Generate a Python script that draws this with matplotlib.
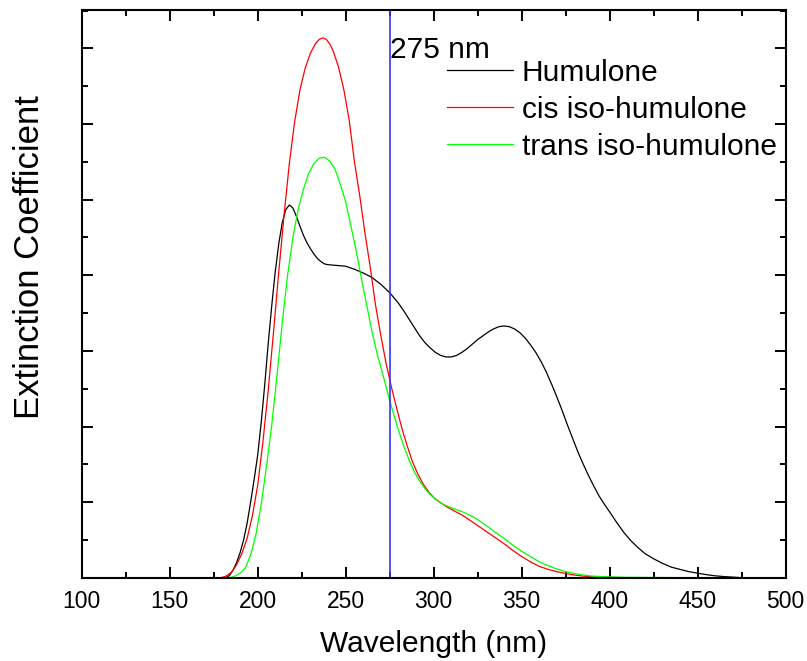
import matplotlib
matplotlib.use("Agg")
import matplotlib.pyplot as plt
from matplotlib.ticker import MultipleLocator, NullFormatter
from matplotlib.transforms import blended_transform_factory

plt.rcParams['font.family'] = ['Liberation Sans', 'DejaVu Sans']

# Humulone absorption spectrum
humulone_nm = [182, 184, 186, 188, 190, 192, 194, 196, 198, 200, 202, 204, 206, 208, 210,
               212, 214, 216, 218, 220, 222, 224, 226, 228, 230, 232, 234, 236, 238, 240,
               245, 250, 255, 260, 265, 270, 275, 280, 283, 286, 289, 292, 295, 298, 301,
               304, 307, 310, 313, 316, 319, 322, 325, 328, 331, 334, 337, 340, 343, 346,
               349, 352, 355, 358, 361, 364, 367, 370, 373, 376, 379, 382, 385, 388, 391,
               394, 397, 400, 404, 408, 412, 416, 420, 425, 430, 435, 440, 445, 450, 455,
               460, 465, 470, 475]
humulone_ext = [0.0, 0.03, 0.1, 0.2, 0.33, 0.5, 0.72, 1.0, 1.3, 1.62, 2.05, 2.55, 3.1, 3.6, 4.05,
                4.42, 4.7, 4.87, 4.93, 4.89, 4.78, 4.65, 4.53, 4.43, 4.35, 4.28, 4.22, 4.18, 4.15, 4.14,
                4.13, 4.12, 4.08, 4.03, 3.97, 3.88, 3.77, 3.63, 3.53, 3.42, 3.31, 3.2, 3.11, 3.04, 2.98,
                2.94, 2.92, 2.92, 2.94, 2.98, 3.03, 3.09, 3.15, 3.2, 3.25, 3.29, 3.32, 3.33, 3.32, 3.29,
                3.24, 3.17, 3.08, 2.98, 2.86, 2.72, 2.56, 2.39, 2.21, 2.02, 1.84, 1.66, 1.5, 1.35, 1.21,
                1.08, 0.97, 0.87, 0.73, 0.6, 0.49, 0.4, 0.32, 0.25, 0.19, 0.14, 0.11, 0.08, 0.06, 0.04,
                0.025, 0.015, 0.008, 0.0]

# cis iso-humulone absorption spectrum
cis_nm = [179, 182, 185, 188, 191, 194, 197, 200, 203, 206, 209, 212, 215, 218, 221,
          224, 227, 230, 233, 235, 237, 239, 241, 243, 246, 249, 252, 255, 258, 261, 264,
          267, 270, 273, 276, 279, 282, 285, 288, 291, 294, 297, 300, 304, 308, 312,
          316, 320, 325, 330, 335, 340, 345, 350, 355, 360, 365, 370, 375, 380, 385,
          390, 395, 400, 410]
cis_ext = [0.0, 0.02, 0.07, 0.17, 0.32, 0.52, 0.82, 1.22, 1.8, 2.48, 3.25, 4.05, 4.8, 5.48, 6.03,
           6.45, 6.74, 6.94, 7.07, 7.12, 7.14, 7.12, 7.06, 6.96, 6.75, 6.45, 6.05, 5.5, 5.05, 4.55, 4.1,
           3.6, 3.2, 2.83, 2.52, 2.24, 1.97, 1.74, 1.53, 1.37, 1.24, 1.14, 1.06, 0.99, 0.93, 0.88,
           0.83, 0.77, 0.69, 0.61, 0.53, 0.45, 0.36, 0.28, 0.21, 0.15, 0.11, 0.08, 0.055, 0.035, 0.02,
           0.012, 0.008, 0.005, 0.0]

# trans iso-humulone absorption spectrum
trans_nm = [184, 187, 190, 193, 196, 199, 202, 205, 208, 211, 214, 217, 220, 223, 226,
            229, 232, 235, 238, 241, 244, 247, 250, 253, 256, 259, 262, 265, 268, 271,
            274, 277, 280, 283, 286, 289, 292, 295, 298, 302, 306, 310, 313, 316, 319,
            322, 325, 328, 331, 335, 340, 345, 350, 355, 360, 365, 370, 375, 380, 385,
            390, 395, 400, 410, 420, 450]
trans_ext = [0.0, 0.02, 0.06, 0.13, 0.3, 0.57, 0.97, 1.47, 2.02, 2.68, 3.38, 4.0, 4.5, 4.87, 5.14,
             5.35, 5.48, 5.55, 5.56, 5.51, 5.4, 5.2, 4.97, 4.65, 4.32, 3.95, 3.6, 3.25, 2.95, 2.7,
             2.43, 2.18, 1.95, 1.74, 1.56, 1.4, 1.28, 1.18, 1.1, 1.02, 0.965, 0.925, 0.9, 0.875, 0.845,
             0.81, 0.77, 0.72, 0.67, 0.6, 0.52, 0.43, 0.35, 0.28, 0.21, 0.16, 0.115, 0.08, 0.055, 0.035,
             0.022, 0.015, 0.01, 0.006, 0.004, 0.0]

marker_nm = 275
marker_label = "275 nm"
x_ticks = [100, 150, 200, 250, 300, 350, 400, 450, 500]

fig = plt.figure(figsize=(8.07, 6.61), dpi=100)
ax = fig.add_axes([0.1012, 0.126, 0.8724, 0.859])

ax.plot(humulone_nm, humulone_ext, color="black", lw=0.9, label="Humulone")
ax.plot(cis_nm, cis_ext, color="#ff0000", lw=0.9, label="cis iso-humulone")
ax.plot(trans_nm, trans_ext, color="#00ff00", lw=0.9, label="trans iso-humulone")
ax.axvline(marker_nm, color="#3333ff", lw=1.2)

trans = blended_transform_factory(ax.transData, ax.transAxes)
ax.text(marker_nm, 0.93, marker_label, transform=trans, ha="left", va="center", fontsize=21.5)

ax.set_xlim(100, 500)
ax.set_ylim(0, 7.51)
ax.set_xticks(x_ticks)
ax.xaxis.set_minor_locator(MultipleLocator(25))
ax.yaxis.set_major_locator(MultipleLocator(1))
ax.yaxis.set_minor_locator(MultipleLocator(0.5))
ax.yaxis.set_major_formatter(NullFormatter())

ax.tick_params(which="both", direction="in", top=True, right=True, width=1.4)
ax.tick_params(which="major", length=8)
ax.tick_params(which="minor", length=4)
ax.tick_params(axis="x", labelsize=16.5, pad=9)
for s in ax.spines.values():
    s.set_linewidth(1.5)

ax.set_xlabel("Wavelength (nm)", fontsize=21.5, labelpad=12)
fig.text(0.036, 1 - 257 / 661, "Extinction Coefficient", rotation=90,
         ha="center", va="center", fontsize=25)

ax.legend(loc="upper left", bbox_to_anchor=(0.554, 0.911), bbox_transform=fig.transFigure,
          frameon=False, fontsize=21.5, handlelength=2.2, handletextpad=0.3,
          labelspacing=0.3, borderpad=0, borderaxespad=0)

fig.savefig("out.png", dpi=100)
